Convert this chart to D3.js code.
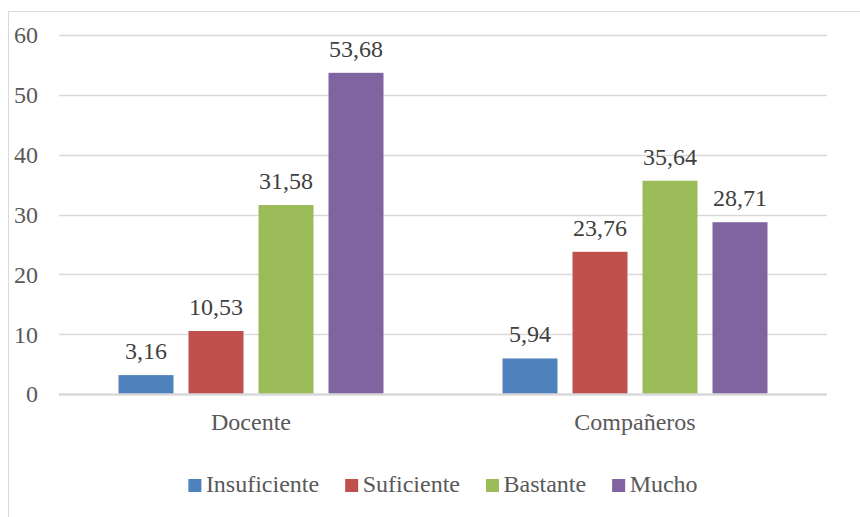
<!DOCTYPE html>
<html>
<head>
<meta charset="utf-8">
<script src="https://cdn.jsdelivr.net/npm/d3@7"></script>
<style>
  html, body { margin: 0; padding: 0; background: #fff; }
  svg { display: block; }
</style>
</head>
<body>
<svg id="chart" width="860" height="517"></svg>
<script>
const categories = ["Docente", "Compañeros"];
const seriesNames = ["Insuficiente", "Suficiente", "Bastante", "Mucho"];
const seriesColors = ["#4f81bd", "#c0504d", "#9bbb59", "#8064a2"];
const docenteValues = [3.16, 10.53, 31.58, 53.68];
const companerosValues = [5.94, 23.76, 35.64, 28.71];
const yTicks = [0, 10, 20, 30, 40, 50, 60];

const values = [docenteValues, companerosValues];
const svg = d3.select("#chart");
const FONT = "Liberation Serif";

// outer border
svg.append("rect")
  .attr("x", 8.5).attr("y", 11.5)
  .attr("width", 1000).attr("height", 1000)
  .attr("fill", "none").attr("stroke", "#d9d9d9").attr("stroke-width", 1);

const left = 59, right = 827;
const y = d3.scaleLinear().domain([0, 60]).range([394, 35]);
const x0 = d3.scaleBand().domain(categories).range([left, right]).padding(0);
const x1 = d3.scaleBand().domain(seriesNames).range([0, x0.bandwidth()])
  .paddingInner(15 / 70).paddingOuter(0.85);

// gridlines
svg.append("g").selectAll("line")
  .data(yTicks.filter(t => t !== 0))
  .join("line")
  .attr("x1", left).attr("x2", right)
  .attr("y1", d => Math.round(y(d)) + 0.5).attr("y2", d => Math.round(y(d)) + 0.5)
  .attr("stroke", "#d9d9d9").attr("stroke-width", 1.3);

// y tick labels
svg.append("g").selectAll("text")
  .data(yTicks)
  .join("text")
  .attr("x", 38).attr("y", d => y(d))
  .attr("dy", "0.35em")
  .attr("text-anchor", "end")
  .attr("font-family", FONT)
  .attr("font-size", 24)
  .attr("fill", "#595959")
  .text(d => d);

// bars
const groups = svg.append("g").selectAll("g")
  .data(categories)
  .join("g")
  .attr("transform", d => `translate(${x0(d)},0)`);

groups.selectAll("rect")
  .data((c, ci) => seriesNames.map((s, si) => ({ s, si, v: values[ci][si] })))
  .join("rect")
  .attr("x", d => x1(d.s))
  .attr("width", x1.bandwidth())
  .attr("y", d => y(d.v))
  .attr("height", d => y(0) - y(d.v))
  .attr("fill", d => seriesColors[d.si]);

groups.selectAll("text.lbl")
  .data((c, ci) => seriesNames.map((s, si) => ({ s, si, v: values[ci][si] })))
  .join("text")
  .attr("class", "lbl")
  .attr("x", d => x1(d.s) + x1.bandwidth() / 2)
  .attr("y", d => y(d.v) - 16)
  .attr("text-anchor", "middle")
  .attr("font-family", FONT)
  .attr("font-size", 24)
  .attr("fill", "#404040")
  .text(d => d.v.toFixed(2).replace(".", ","));

// x axis line
svg.append("line")
  .attr("x1", left).attr("x2", right)
  .attr("y1", 394.5).attr("y2", 394.5)
  .attr("stroke", "#d9d9d9").attr("stroke-width", 2.3);

// category labels
svg.append("g").selectAll("text")
  .data(categories)
  .join("text")
  .attr("x", d => x0(d) + x0.bandwidth() / 2)
  .attr("y", 430)
  .attr("text-anchor", "middle")
  .attr("font-family", FONT)
  .attr("font-size", 24)
  .attr("fill", "#595959")
  .text(d => d);

// legend
const legend = svg.append("g");
const items = legend.selectAll("g")
  .data(seriesNames)
  .join("g");
items.append("rect")
  .attr("x", 0).attr("y", 479)
  .attr("width", 13).attr("height", 13)
  .attr("fill", (d, i) => seriesColors[i]);
items.append("text")
  .attr("x", 17.5).attr("y", 492)
  .attr("font-family", FONT)
  .attr("font-size", 24)
  .attr("fill", "#595959")
  .text(d => d);
const widths = [];
items.each(function() {
  const w = 17.5 + d3.select(this).select("text").node().getComputedTextLength();
  widths.push(w);
});
const gap = 26;
const total = d3.sum(widths) + gap * (widths.length - 1);
let start = (left + right) / 2 - total / 2;
items.attr("transform", (d, i) => {
  const t = `translate(${start},0)`;
  start += widths[i] + gap;
  return t;
});
</script>
</body>
</html>
